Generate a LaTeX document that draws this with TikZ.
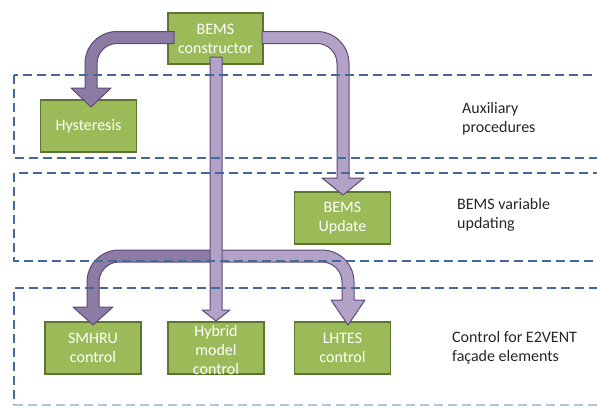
\documentclass[tikz,border=0pt]{standalone}
\usepackage{fontspec}
\setmainfont{Carlito}
\definecolor{gfill}{HTML}{9BBB59}
\definecolor{gdraw}{HTML}{5C7530}
\definecolor{pdark}{HTML}{8C7BA3}
\definecolor{plight}{HTML}{B3A2C7}
\definecolor{pedge}{HTML}{5E4A78}
\definecolor{dline}{HTML}{44699A}
\definecolor{dlinelight}{HTML}{B4C4DC}
\begin{document}
\begin{tikzpicture}[x=1pt,y=-1pt,
  gbox/.style={draw=gdraw, line width=1.4pt, fill=gfill, minimum width=96pt, minimum height=52pt, inner sep=0pt},
  btext/.style={text=white, align=center, inner sep=0pt, font=\fontsize{16}{19}\selectfont},
  lbl/.style={text=black!85, align=left, anchor=west, inner sep=0pt, font=\fontsize{16}{19}\selectfont},
  region/.style={draw=dline, line width=1.8pt, dash pattern=on 9pt off 5pt},
  darr/.style={fill=pdark, draw=pedge, line width=1pt, line join=round},
  larr/.style={fill=plight, draw=pedge, line width=1pt, line join=round}]
\useasboundingbox (0,0) rectangle (597,407);
\clip (0,0) rectangle (597,407);

% boxes
\node[gbox, minimum width=95pt, minimum height=51pt] (cons) at (215.5,38.5) {};
\node[gbox] (hyst) at (88.5,126) {};
\node[gbox] (upd) at (342.5,218) {};
\node[gbox] (smh) at (93,348) {};
\node[gbox] (hyb) at (216,348) {};
\node[gbox] (lht) at (342.5,348) {};

% arrows
\path[darr] (174,31.5) -- (117,31.5) .. controls (99.3,31.5) and (85,45.8) .. (85,63.5) -- (85,88) -- (71,88) -- (91,107) -- (111,88) -- (97,88) -- (97,63.5) .. controls (97,52.5) and (106,43.5) .. (117,43.5) -- (174,43.5) -- cycle;
\path[larr] (262,31.5) -- (317,31.5) .. controls (334.7,31.5) and (349,45.8) .. (349,63.5) -- (349,178) -- (364,178) -- (343,195) -- (322,178) -- (337,178) -- (337,63.5) .. controls (337,52.5) and (328,43.5) .. (317,43.5) -- (262,43.5) -- cycle;
\path[darr] (216,250) -- (119,250) .. controls (101.3,250) and (87,264.3) .. (87,282) -- (87,307) -- (73,307) -- (93,325) -- (113,307) -- (99,307) -- (99,282) .. controls (99,271) and (108,262) .. (119,262) -- (216,262) -- cycle;
\path[larr] (216,250) -- (322,250) .. controls (339.7,250) and (354,264.3) .. (354,282) -- (354,300) -- (365,300) -- (348,325) -- (331,300) -- (342,300) -- (342,282) .. controls (342,271) and (333,262) .. (322,262) -- (216,262) -- cycle;
\path[larr] (210,57) -- (222,57) -- (222,310) -- (230,310) -- (216,321) -- (202,310) -- (210,310) -- cycle;

% box texts
\node[btext] (tcons) at (cons) {BEMS\\constructor};
\node[btext] (thyst) at (hyst) {Hysteresis};
\node[btext] (tupd) at (upd) {BEMS\\Update};
\node[btext] (tsmh) at (smh) {SMHRU\\control};
\node[btext] (thyb) at (216,350) {Hybrid\\model\\control};
\node[btext] (tlht) at (lht) {LHTES\\control};

% regions
\draw[region] (14,75) rectangle (640,158);
\draw[region] (14,173) rectangle (640,261);
\draw[region] (640,288) -- (14,288) -- (14,405);
\draw[region, draw=dlinelight] (14,405) -- (640,405);

% labels
\node[lbl] (l1) at (462,118.5) {Auxiliary\\procedures};
\node[lbl] (l2) at (457,215) {BEMS variable\\updating};
\node[lbl] (l3) at (452,348) {Control for E2VENT\\façade elements};
\end{tikzpicture}
\end{document}
